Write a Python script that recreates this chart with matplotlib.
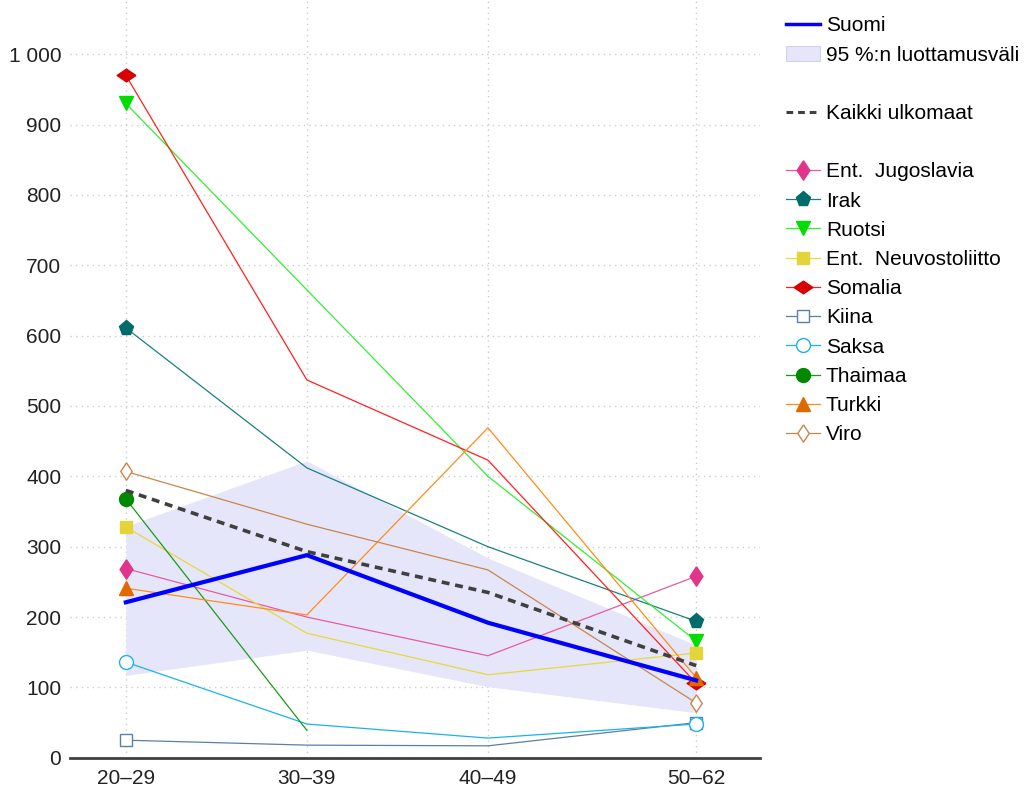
import numpy as np
import matplotlib
matplotlib.use("Agg")
import matplotlib.pyplot as plt
from matplotlib.lines import Line2D
from matplotlib.patches import Patch

plt.rcParams["font.family"] = ["Liberation Sans", "DejaVu Sans"]

# ikäryhmät ja niiden keskikohdat
age_labels = ["20–29", "30–39", "40–49", "50–62"]
age_mid = [24.5, 34.5, 44.5, 56.0]

suomi = [221, 288, 192, 110]
ci_low = [117, 153, 101, 64]
ci_high = [329, 422, 284, 160]
kaikki = [380, 293, 235, 131]

countries = ["Ent.  Jugoslavia", "Irak", "Ruotsi", "Ent.  Neuvostoliitto", "Somalia",
             "Kiina", "Saksa", "Thaimaa", "Turkki", "Viro"]
values = [
    [269, 200, 145, 258],
    [611, 412, 300, 194],
    [930, 665, 400, 166],
    [328, 177, 118, 149],
    [970, 537, 423, 106],
    [25, 18, 17, 50],
    [136, 48, 28, 48],
    [368, 39],
    [241, 203, 469, 114],
    [407, 332, 267, 78],
]

# hieman litistetyt vinoneliöt
tall_diamond = [(0, 1), (0.66, 0), (0, -1), (-0.66, 0), (0, 1)]
wide_diamond = [(1, 0), (0, 0.68), (-1, 0), (0, -0.68), (1, 0)]

# (viivan väri, merkin väri, merkki, koko, täytetty)
styles = [
    ("#e65aa0", "#e0358a", tall_diamond, 14, True),
    ("#1a8080", "#006b6b", "p", 11, True),
    ("#33ee33", "#00dd00", "v", 10, True),
    ("#e8d83a", "#e3d43a", "s", 9, True),
    ("#ff2020", "#d80000", wide_diamond, 13.5, True),
    ("#5b7fa6", "#5b7fa6", "s", 9, False),
    ("#1ab2ee", "#1ab2ee", "o", 10, False),
    ("#1a9a1a", "#008800", "o", 10, True),
    ("#ff8c1a", "#e06a00", "^", 10, True),
    ("#c8864a", "#c8864a", tall_diamond, 12.5, False),
]

fig = plt.figure(figsize=(10.25, 7.96), dpi=100)
ax = fig.add_axes([0.068, 0.048, 0.673, 0.952])

ax.fill_between(age_mid, ci_low, ci_high, color="#e6e6fa", linewidth=0, zorder=1)
ax.plot(age_mid, suomi, color="#0000ff", linewidth=3, zorder=5)
ax.plot(age_mid, kaikki, color="#404040", linewidth=2.6, linestyle=(0, (2.2, 1.6)), zorder=5)

handles = [
    Line2D([], [], color="#0000ff", linewidth=2.5),
    Patch(facecolor="#e6e6fa", edgecolor="#d0d0f5", linewidth=0.8),
    Line2D([], [], color="none"),
    Line2D([], [], color="#404040", linewidth=2.2, linestyle=(0, (2.2, 1.6))),
    Line2D([], [], color="none"),
]
labels = ["Suomi", "95 %:n luottamusväli", "", "Kaikki ulkomaat", ""]

for name, vals, (lc, mc, m, ms, filled) in zip(countries, values, styles):
    xs = age_mid[:len(vals)]
    # merkit vain ensimmäiseen ja viimeiseen ikäryhmään
    marks = [i for i, x in enumerate(xs) if x in (age_mid[0], age_mid[-1])]
    face = mc if filled else "white"
    ax.plot(xs, vals, color=lc, linewidth=0.9, marker=m, markersize=ms,
            markevery=marks, markerfacecolor=face, markeredgecolor=mc,
            markeredgewidth=1.0, zorder=4)
    handles.append(Line2D([], [], color=lc, linewidth=0.9, marker=m, markersize=ms,
                          markerfacecolor=face, markeredgecolor=mc, markeredgewidth=1.0))
    labels.append(name)

ax.set_xlim(21.4, 59.5)
ax.set_ylim(0, 1077)
ax.set_xticks(age_mid)
ax.set_xticklabels(age_labels)
yt = np.arange(0, 1001, 100)
ax.set_yticks(yt)
ax.set_yticklabels([f"{v:,}".replace(",", " ") for v in yt])
ax.tick_params(axis="both", length=0, labelsize=15, labelcolor="#222222")
ax.tick_params(axis="x", pad=8)
ax.tick_params(axis="y", pad=6)

for s in ["left", "right", "top"]:
    ax.spines[s].set_visible(False)
ax.spines["bottom"].set_color("#404040")
ax.spines["bottom"].set_linewidth(2)

ax.grid(True, linestyle=(0, (1, 3)), color="#cccccc", linewidth=1)
ax.set_axisbelow(True)

fig.legend(handles, labels, loc="upper left", bbox_to_anchor=(0.759, 0.99),
           frameon=False, fontsize=15, handlelength=1.6, handletextpad=0.3,
           labelspacing=0.49, borderaxespad=0)

fig.savefig("out.png", dpi=100)
